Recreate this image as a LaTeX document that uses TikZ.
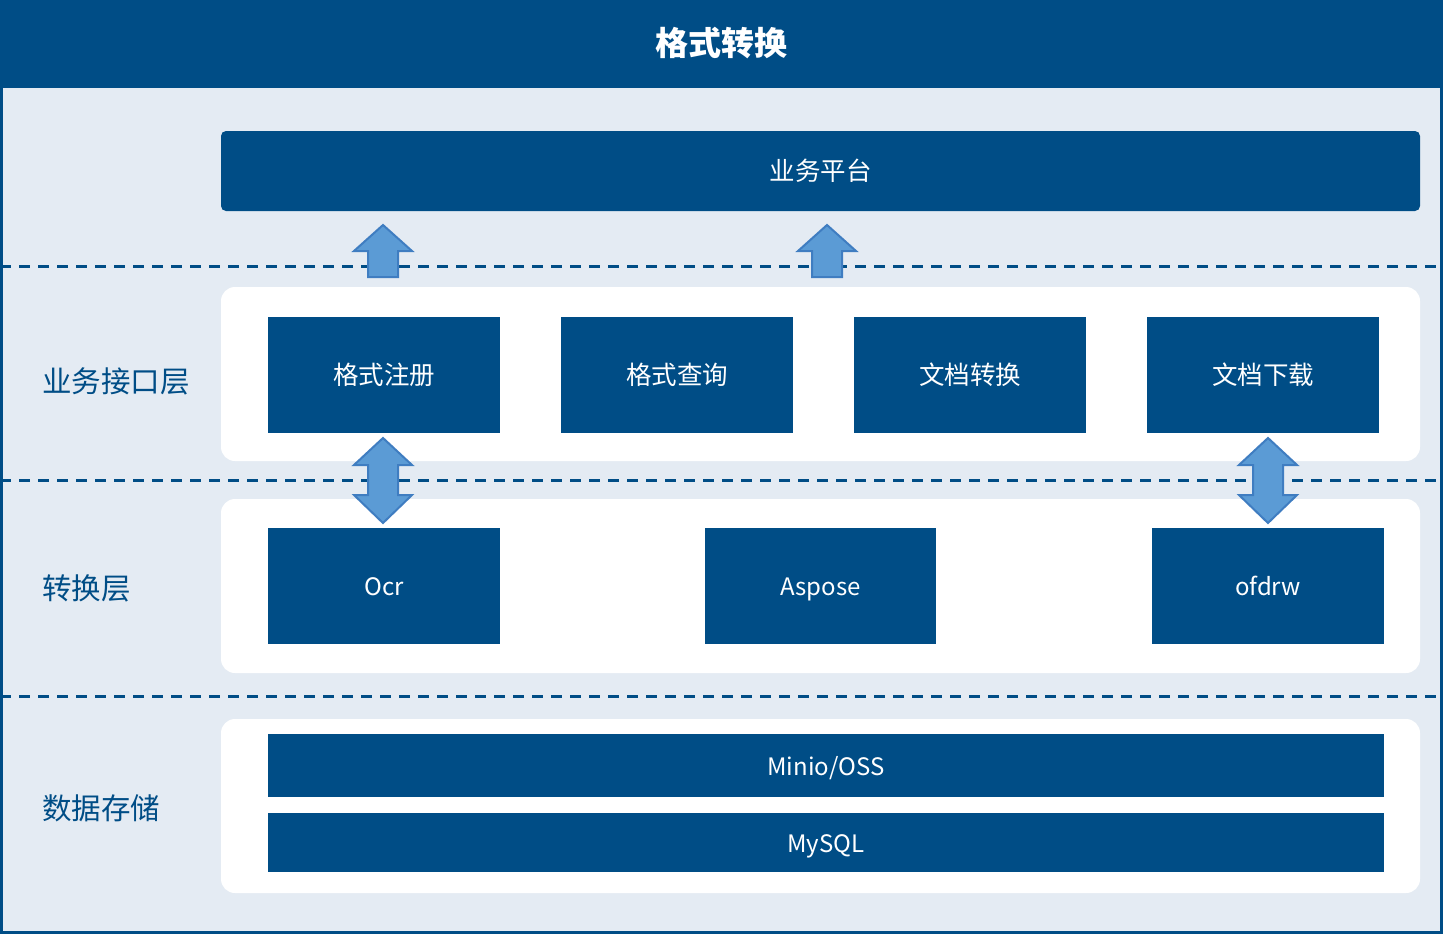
\documentclass[tikz,border=0pt]{standalone}
\usepackage{fontspec}
\setmainfont{Noto Sans CJK SC}
\definecolor{navy}{HTML}{004D86}
\definecolor{paleblue}{HTML}{E4EBF3}
\definecolor{arrowfill}{HTML}{5B9BD5}
\definecolor{arrowedge}{HTML}{3F7DC1}
\tikzset{
  box/.style={fill=navy, text=white, inner sep=0pt, text height=22pt, text depth=3pt,
    font=\fontsize{24pt}{28pt}\selectfont},
  cjkbox/.style={box, font=\fontsize{25.5pt}{30pt}\selectfont},
  panel/.style={fill=white, rounded corners=14pt},
  layerlabel/.style={text=navy, anchor=west, inner sep=0pt, font=\fontsize{29.5pt}{34pt}\selectfont},
  divider/.style={navy, line width=3pt, dash pattern=on 11pt off 8pt},
  blockarrow/.style={fill=arrowfill, draw=arrowedge, line width=2pt, line join=miter}
}
\begin{document}
\begin{tikzpicture}[x=1pt,y=-1pt]
\useasboundingbox (0,0) rectangle (1443,934);
% background and header band
\fill[paleblue] (0,0) rectangle (1443,934);
\fill[navy] (0,0) rectangle (1443,88);
\node[text=white, font=\bfseries\fontsize{33pt}{38pt}\selectfont] (title) at (721,43) {格式转换};

% layer dividers
\draw[divider] (0,266) -- (1443,266);
\draw[divider] (0,480) -- (1443,480);
\draw[divider] (0,696) -- (1443,696);

% top platform
\node[cjkbox, rounded corners=5pt, minimum width=1199pt, minimum height=80pt] (platform) at (820.5,171) {业务平台};

% interface layer
\fill[panel] (221,287) rectangle (1420,461);
\node[layerlabel] (l1) at (42,381) {业务接口层};
\node[cjkbox, minimum width=232pt, minimum height=116pt] (reg) at (384,375) {格式注册};
\node[cjkbox, minimum width=232pt, minimum height=116pt] (query) at (677,375) {格式查询};
\node[cjkbox, minimum width=232pt, minimum height=116pt] (conv) at (970,375) {文档转换};
\node[cjkbox, minimum width=232pt, minimum height=116pt] (down) at (1263,375) {文档下载};

% conversion layer
\fill[panel] (221,499) rectangle (1420,673);
\node[layerlabel] (l2) at (42,588) {转换层};
\node[box, minimum width=232pt, minimum height=116pt] (ocr) at (384,586) {Ocr};
\node[box, minimum width=231pt, minimum height=116pt] (aspose) at (820.5,586) {Aspose};
\node[box, minimum width=232pt, minimum height=116pt] (ofdrw) at (1268,586) {ofdrw};

% storage layer
\fill[panel] (221,719) rectangle (1420,893);
\node[layerlabel] (l3) at (42,808) {数据存储};
\node[box, minimum width=1116pt, minimum height=63pt] (minio) at (826,765.5) {Minio/OSS};
\node[box, minimum width=1116pt, minimum height=59pt] (mysql) at (826,842.5) {MySQL};

% block arrows towards the platform
\foreach \cx in {383,827}{
  \draw[blockarrow] (\cx,225) -- (\cx+29,251) -- (\cx+15,251) -- (\cx+15,277)
    -- (\cx-15,277) -- (\cx-15,251) -- (\cx-29,251) -- cycle;
}
% two-way block arrows between the interface and conversion layers
\foreach \cx in {383,1268}{
  \draw[blockarrow] (\cx,438) -- (\cx+29,465) -- (\cx+15,465) -- (\cx+15,495)
    -- (\cx+29,495) -- (\cx,523) -- (\cx-29,495) -- (\cx-15,495)
    -- (\cx-15,465) -- (\cx-29,465) -- cycle;
}

% outer frame
\draw[navy, line width=3pt] (1.5,1.5) rectangle (1441.5,932.5);
\end{tikzpicture}
\end{document}
